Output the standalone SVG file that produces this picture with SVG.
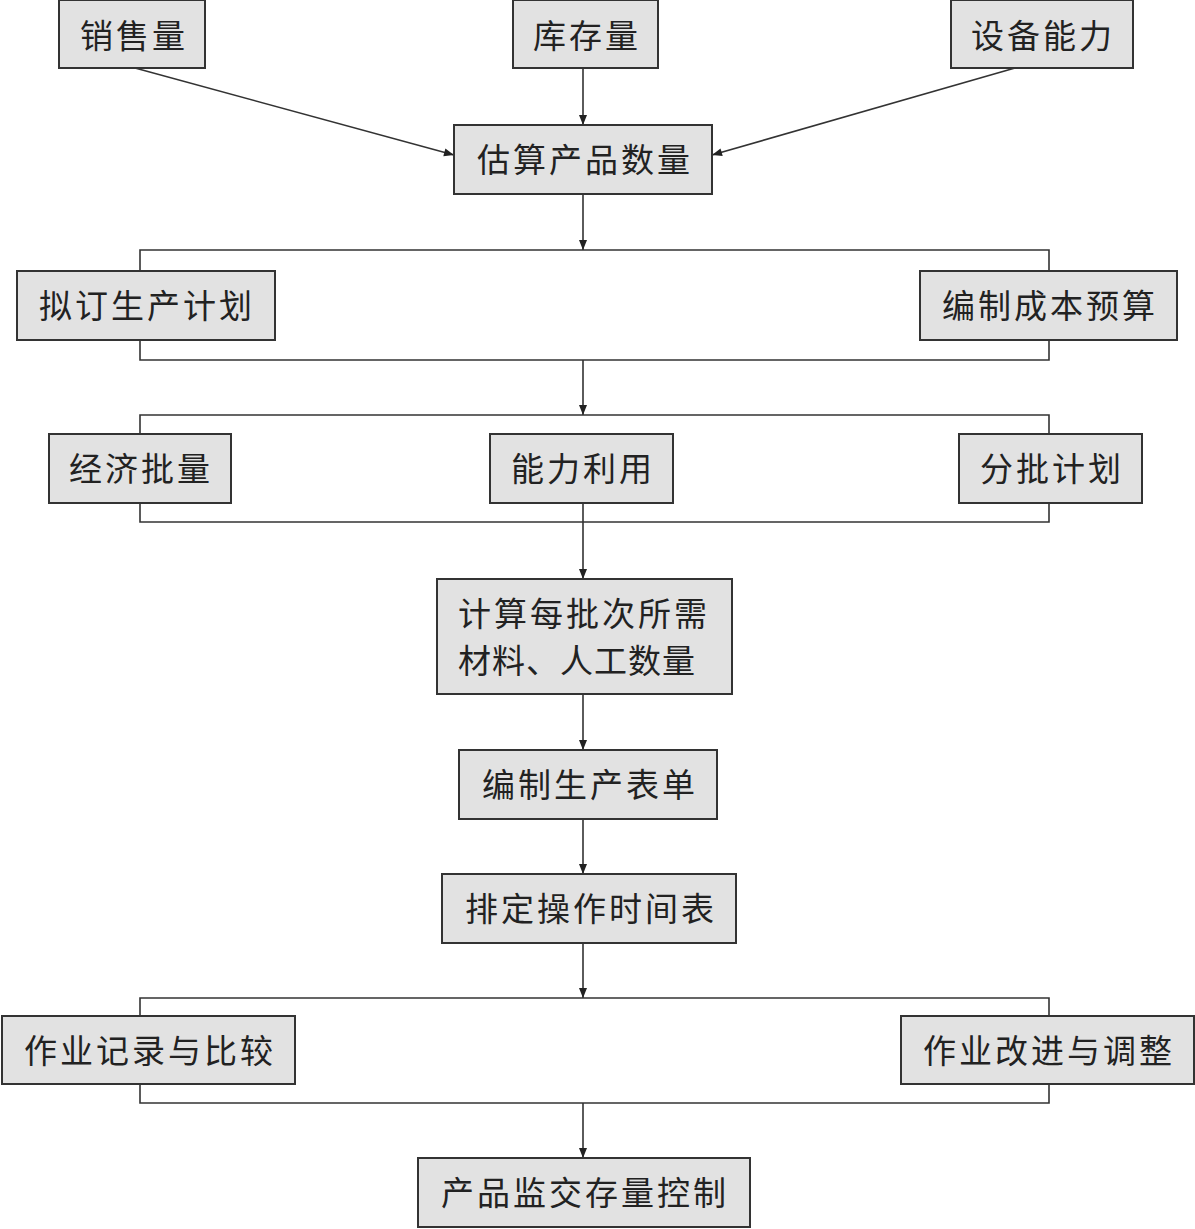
<svg xmlns="http://www.w3.org/2000/svg" width="1195" height="1229" viewBox="0 0 1195 1229">
<style>
.box{fill:#e2e2e2;stroke:#333;stroke-width:2}
.t{font-family:"Noto Sans CJK SC","Noto Sans",sans-serif;font-size:33px;fill:#222;text-anchor:middle;dominant-baseline:central;letter-spacing:3px}
.ts{text-anchor:start}
.ln{stroke:#333;stroke-width:1.6;fill:none}
</style>
<defs>
<marker id="ah" viewBox="0 0 10 10" refX="10" refY="5" markerWidth="12" markerHeight="10" markerUnits="userSpaceOnUse" orient="auto">
<path d="M0,1 L10,5 L0,9 Z" fill="#222"/>
</marker>
</defs>
<rect width="1195" height="1229" fill="#fff"/>
<g id="connectors">
<line class="ln" x1="583" y1="68" x2="583" y2="125" marker-end="url(#ah)"/>
<line class="ln" x1="135" y1="68" x2="454" y2="155" marker-end="url(#ah)"/>
<line class="ln" x1="1015" y1="68" x2="712" y2="155" marker-end="url(#ah)"/>
<line class="ln" x1="583" y1="194" x2="583" y2="250" marker-end="url(#ah)"/>
<path class="ln" d="M140,271 V250 H1049 V271"/>
<path class="ln" d="M140,340 V360 H1049 V340"/>
<line class="ln" x1="583" y1="360" x2="583" y2="415" marker-end="url(#ah)"/>
<path class="ln" d="M140,434 V415 H1049 V434"/>
<path class="ln" d="M140,503 V522 H1049 V503"/>
<line class="ln" x1="583" y1="503" x2="583" y2="579" marker-end="url(#ah)"/>
<line class="ln" x1="583" y1="694" x2="583" y2="750" marker-end="url(#ah)"/>
<line class="ln" x1="583" y1="819" x2="583" y2="874" marker-end="url(#ah)"/>
<line class="ln" x1="583" y1="943" x2="583" y2="998" marker-end="url(#ah)"/>
<path class="ln" d="M140,1016 V998 H1049 V1016"/>
<path class="ln" d="M140,1084 V1103 H1049 V1084"/>
<line class="ln" x1="583" y1="1103" x2="583" y2="1158" marker-end="url(#ah)"/>
</g>
<g id="n1"><rect class="box" x="59" y="0" width="146" height="68"/><text class="t" x="134" y="34">销售量</text></g>
<g id="n2"><rect class="box" x="513" y="0" width="145" height="68"/><text class="t" x="587" y="34">库存量</text></g>
<g id="n3"><rect class="box" x="951" y="0" width="182" height="68"/><text class="t" x="1043" y="34">设备能力</text></g>
<g id="n4"><rect class="box" x="454" y="125" width="258" height="69"/><text class="t" x="585" y="158">估算产品数量</text></g>
<g id="n5"><rect class="box" x="17" y="271" width="258" height="69"/><text class="t" x="147" y="304">拟订生产计划</text></g>
<g id="n6"><rect class="box" x="920" y="271" width="257" height="69"/><text class="t" x="1050" y="304">编制成本预算</text></g>
<g id="n7"><rect class="box" x="49" y="434" width="182" height="69"/><text class="t" x="141" y="467">经济批量</text></g>
<g id="n8"><rect class="box" x="490" y="434" width="183" height="69"/><text class="t" x="583" y="467">能力利用</text></g>
<g id="n9"><rect class="box" x="959" y="434" width="183" height="69"/><text class="t" x="1052" y="467">分批计划</text></g>
<g id="n10"><rect class="box" x="437" y="579" width="295" height="115"/><text class="t ts" x="458" y="612">计算每批次所需</text><text class="t ts" x="458" y="659" style="letter-spacing:1px">材料、人工数量</text></g>
<g id="n11"><rect class="box" x="459" y="750" width="258" height="69"/><text class="t" x="590" y="783">编制生产表单</text></g>
<g id="n12"><rect class="box" x="442" y="874" width="294" height="69"/><text class="t" x="591" y="907">排定操作时间表</text></g>
<g id="n13"><rect class="box" x="2" y="1016" width="293" height="68"/><text class="t" x="150" y="1049">作业记录与比较</text></g>
<g id="n14"><rect class="box" x="901" y="1016" width="293" height="68"/><text class="t" x="1049" y="1049">作业改进与调整</text></g>
<g id="n15"><rect class="box" x="418" y="1158" width="332" height="69"/><text class="t" x="585" y="1191">产品监交存量控制</text></g>
</svg>
